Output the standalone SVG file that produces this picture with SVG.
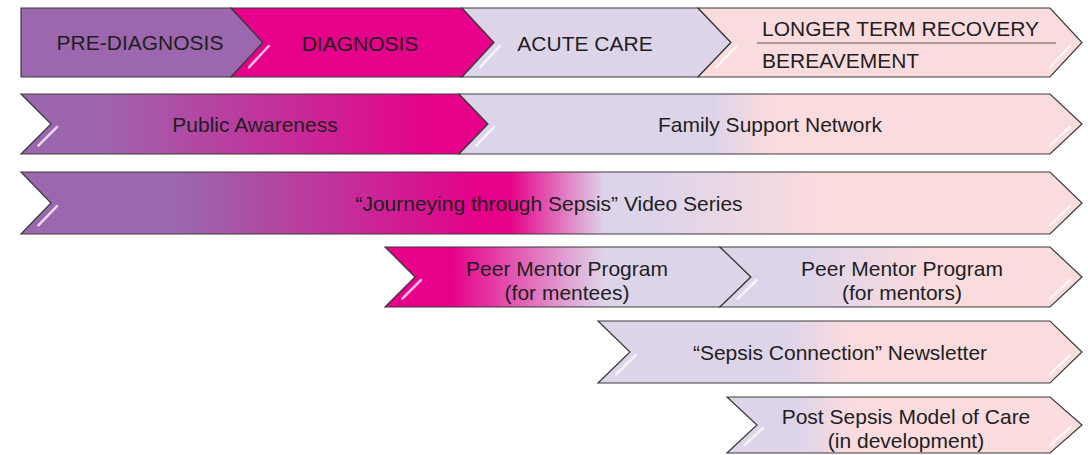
<svg xmlns="http://www.w3.org/2000/svg" width="1088" height="455" viewBox="0 0 1088 455">
<style>
.s{stroke:#3a3a3a;stroke-width:1.2;stroke-linejoin:miter}
.t{font-family:"Liberation Sans",Arial,sans-serif;font-size:21px;fill:#1e1e1e;text-anchor:middle}
.tl{font-family:"Liberation Sans",Arial,sans-serif;font-size:21px;fill:#1e1e1e;text-anchor:start}
.hl{stroke:#ffffff;stroke-width:2.5;stroke-linecap:round;opacity:.75;fill:none;filter:url(#blur)}
</style>
<defs>
<filter id="blur" x="-50%" y="-50%" width="200%" height="200%"><feGaussianBlur stdDeviation="0.6"/></filter>
<linearGradient id="g2a" gradientUnits="userSpaceOnUse" x1="21" y1="0" x2="489" y2="0">
<stop offset="0" stop-color="#9B67AE"/><stop offset="0.18" stop-color="#9E64AE"/><stop offset="0.88" stop-color="#E6008A"/><stop offset="1" stop-color="#E6008A"/>
</linearGradient>
<linearGradient id="g2b" gradientUnits="userSpaceOnUse" x1="459" y1="0" x2="1082" y2="0">
<stop offset="0" stop-color="#DED4EA"/><stop offset="0.41" stop-color="#DED4EA"/><stop offset="0.5" stop-color="#FADBDE"/><stop offset="1" stop-color="#FADBDE"/>
</linearGradient>
<linearGradient id="g3" gradientUnits="userSpaceOnUse" x1="21" y1="0" x2="1082" y2="0">
<stop offset="0" stop-color="#9B67AE"/><stop offset="0.15" stop-color="#9B67AE"/><stop offset="0.43" stop-color="#E6008A"/><stop offset="0.46" stop-color="#E6008A"/><stop offset="0.55" stop-color="#DED4EA"/><stop offset="0.6" stop-color="#DED4EA"/><stop offset="0.75" stop-color="#FADBDE"/><stop offset="1" stop-color="#FADBDE"/>
</linearGradient>
<linearGradient id="g4a" gradientUnits="userSpaceOnUse" x1="385" y1="0" x2="751" y2="0">
<stop offset="0" stop-color="#E6008A"/><stop offset="0.18" stop-color="#E6008A"/><stop offset="0.6" stop-color="#DED4EA"/><stop offset="1" stop-color="#DED4EA"/>
</linearGradient>
<linearGradient id="g4b" gradientUnits="userSpaceOnUse" x1="720" y1="0" x2="1082" y2="0">
<stop offset="0" stop-color="#DED4EA"/><stop offset="0.25" stop-color="#DED4EA"/><stop offset="0.58" stop-color="#FADBDE"/><stop offset="1" stop-color="#FADBDE"/>
</linearGradient>
<linearGradient id="g5" gradientUnits="userSpaceOnUse" x1="598" y1="0" x2="1082" y2="0">
<stop offset="0" stop-color="#DED4EA"/><stop offset="0.39" stop-color="#DED4EA"/><stop offset="0.52" stop-color="#FADBDE"/><stop offset="1" stop-color="#FADBDE"/>
</linearGradient>
<linearGradient id="g6" gradientUnits="userSpaceOnUse" x1="727" y1="0" x2="1082" y2="0">
<stop offset="0" stop-color="#DED4EA"/><stop offset="0.2" stop-color="#DED4EA"/><stop offset="0.35" stop-color="#FADBDE"/><stop offset="1" stop-color="#FADBDE"/>
</linearGradient>
</defs>
<rect width="1088" height="455" fill="#ffffff"/>

<g id="pre-diagnosis">
<path class="s" fill="#9C67AF" d="M21,8 H231 L263,42.5 L231,77 H21 Z"/>
<line class="hl" x1="25.5" y1="15" x2="25.5" y2="70" style="opacity:.3"/>
<text class="t" x="140" y="50">PRE-DIAGNOSIS</text>
</g>
<g id="diagnosis">
<path class="s" fill="#E6008A" d="M231,8 H462 L494,42.5 L462,77 H231 L263,42.5 Z"/>
<line class="hl" x1="268.8" y1="46" x2="249" y2="67.3"/>
<text class="t" x="360" y="51">DIAGNOSIS</text>
</g>
<g id="acute-care">
<path class="s" fill="#DED4EA" d="M462,8 H698 L731,42.5 L698,77 H462 L494,42.5 Z"/>
<line class="hl" x1="499.8" y1="46" x2="480" y2="67.3"/>
<text class="t" x="585" y="51">ACUTE CARE</text>
</g>
<g id="longer-term">
<path class="s" fill="#FADBDE" d="M698,8 H1050 L1082,42.5 L1050,77 H698 L731,42.5 Z"/>
<line class="hl" x1="736.7" y1="46" x2="716.2" y2="67.3"/>
<line class="hl" x1="1069.8" y1="46" x2="1050" y2="67.3"/>
<text class="tl" x="762" y="36">LONGER TERM RECOVERY</text>
<line x1="757" y1="43" x2="1056" y2="43" stroke="#555555" stroke-width="1"/>
<text class="tl" x="762" y="68">BEREAVEMENT</text>
</g>

<g id="public-awareness">
<path class="s" fill="url(#g2a)" d="M21,94 H459 L488,124 L459,154 H21 L51,124 Z"/>
<line class="hl" x1="57" y1="127" x2="38.4" y2="145.6"/>
<text class="t" x="255" y="131.5">Public Awareness</text>
</g>
<g id="family-support">
<path class="s" fill="url(#g2b)" d="M459,94 H1050 L1082,124 L1050,154 H459 L488,124 Z"/>
<line class="hl" x1="494.1" y1="127" x2="476.1" y2="145.6"/>
<line class="hl" x1="1069.8" y1="127" x2="1050" y2="145.6"/>
<text class="t" x="770" y="131.5">Family Support Network</text>
</g>

<g id="video-series">
<path class="s" fill="url(#g3)" d="M21,172 H1050 L1082,203 L1050,234 H21 L51,203 Z"/>
<line class="hl" x1="57" y1="206.1" x2="38.4" y2="225.3"/>
<line class="hl" x1="1069.8" y1="206.1" x2="1050" y2="225.3"/>
<text class="t" x="549" y="210.5">“Journeying through Sepsis” Video Series</text>
</g>

<g id="peer-mentees">
<path class="s" fill="url(#g4a)" d="M385,247 H720 L751,277 L720,307 H385 L415,277 Z"/>
<line class="hl" x1="421" y1="280" x2="402.4" y2="298.6"/>
<text class="t" x="567" y="275.5">Peer Mentor Program</text>
<text class="t" x="567" y="299.5">(for mentees)</text>
</g>
<g id="peer-mentors">
<path class="s" fill="url(#g4b)" d="M720,247 H1050 L1082,277 L1050,307 H720 L751,277 Z"/>
<line class="hl" x1="756.9" y1="280" x2="737.7" y2="298.6"/>
<line class="hl" x1="1069.8" y1="280" x2="1050" y2="298.6"/>
<text class="t" x="902" y="275.5">Peer Mentor Program</text>
<text class="t" x="902" y="299.5">(for mentors)</text>
</g>

<g id="newsletter">
<path class="s" fill="url(#g5)" d="M598,321 H1050 L1082,352 L1050,383 H598 L630,352 Z"/>
<line class="hl" x1="635.8" y1="355.1" x2="616" y2="374.3"/>
<line class="hl" x1="1069.8" y1="355.1" x2="1050" y2="374.3"/>
<text class="t" x="840" y="359.5">“Sepsis Connection” Newsletter</text>
</g>

<g id="post-sepsis">
<path class="s" fill="url(#g6)" d="M727,397 H1050 L1082,425 L1050,453 H727 L757,425 Z"/>
<line class="hl" x1="763" y1="427.8" x2="744.4" y2="445.2"/>
<line class="hl" x1="1069.8" y1="427.8" x2="1050" y2="445.2"/>
<text class="t" x="906" y="424">Post Sepsis Model of Care</text>
<text class="t" x="906" y="448">(in development)</text>
</g>

<g id="connectors"></g>
</svg>
